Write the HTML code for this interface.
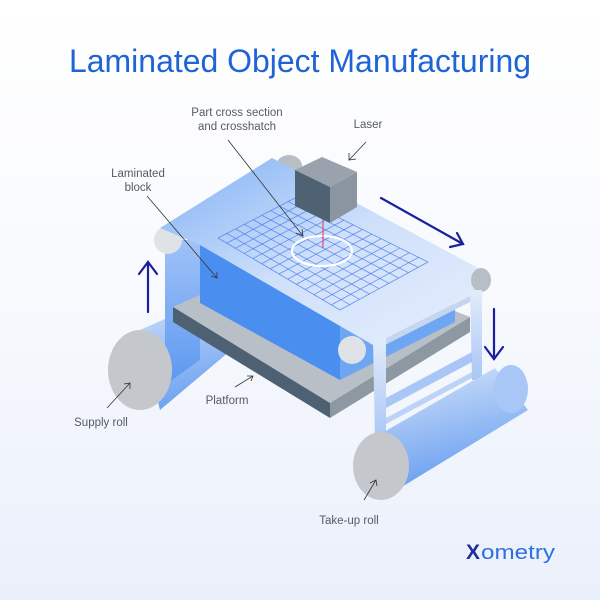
<!DOCTYPE html>
<html><head><meta charset="utf-8"><style>
html,body{margin:0;padding:0}
body{width:600px;height:600px;overflow:hidden;background:linear-gradient(#ffffff 0%,#f7f9fd 50%,#eaf0fb 100%);font-family:"Liberation Sans",sans-serif}
svg{display:block}
.lbl{font-family:"Liberation Sans",sans-serif;font-size:11.5px;fill:#555b63}
</style></head><body>
<svg width="600" height="600" viewBox="0 0 600 600" xmlns="http://www.w3.org/2000/svg">
<defs>
<linearGradient id="sheet" x1="0" y1="0" x2="1" y2="1"><stop offset="0" stop-color="#7fb0f5"/><stop offset="0.5" stop-color="#cfe0fb"/><stop offset="1" stop-color="#e6eefb"/></linearGradient>
<linearGradient id="vsheet" x1="0" y1="0" x2="0" y2="1"><stop offset="0" stop-color="#9fc2f8"/><stop offset="1" stop-color="#5d98f0"/></linearGradient>
<linearGradient id="roll" x1="0" y1="0" x2="0.3" y2="1"><stop offset="0" stop-color="#d7e5fb"/><stop offset="1" stop-color="#6aa0f0"/></linearGradient>
<linearGradient id="leg" x1="0" y1="0" x2="0" y2="1"><stop offset="0" stop-color="#e3ecfa"/><stop offset="1" stop-color="#a9c6f6"/></linearGradient>
</defs>
<text x="300" y="72" text-anchor="middle" font-family="Liberation Sans,sans-serif" font-size="32" fill="#1f63d6" textLength="462" lengthAdjust="spacingAndGlyphs">Laminated Object Manufacturing</text>

<polygon points="140,330 230,290 255,330 160,410" fill="url(#roll)"/>
<polygon points="160,240 200,240 200,360 165,385 165,250" fill="url(#vsheet)"/>
<ellipse cx="140" cy="370" rx="32" ry="40" fill="#c4c8cd"/>
<polygon points="173,307 300,250 470,317 330,403" fill="#b9bfc6"/>
<polygon points="173,307 330,403 330,418 173,322" fill="#4e6172"/>
<polygon points="330,403 470,317 470,332 330,418" fill="#8d98a3"/>
<polygon points="200,240 340,313 340,380 200,303" fill="#4a8ff0"/>
<polygon points="340,313 455,255 455,322 340,380" fill="#6fa6f3"/>
<ellipse cx="289" cy="166" rx="13" ry="11" fill="#b8bec6"/>
<ellipse cx="168" cy="240" rx="14" ry="14" fill="#dfe3e8"/>
<polygon points="160,228 272,158 482,270 482,290 373,345 200,245" fill="url(#sheet)"/>
<polygon points="373,345 482,290 482,296 385,345" fill="#c6d6ee"/>
<ellipse cx="352" cy="350" rx="14" ry="14" fill="#dfe3e8"/>
<ellipse cx="481" cy="280" rx="10" ry="12" fill="#b8bec6"/>
<polygon points="373,340 386,338 386,440 375,440" fill="url(#leg)"/>
<polygon points="470,290 482,290 482,380 472,380" fill="url(#leg)"/>
<polygon points="386,398 472,352 472,362 386,408" fill="#a9c6f6"/>
<polygon points="386,418 472,372 472,378 386,424" fill="#bcd3f7"/>
<polygon points="370,440 495,368 528,410 400,488" fill="url(#roll)"/>
<ellipse cx="511" cy="389" rx="17" ry="24" fill="#a8c6f6"/>
<ellipse cx="381" cy="466" rx="28" ry="34" fill="#c4c8cd"/>
<g id="grid" stroke="#3f78e8" stroke-opacity="0.75" stroke-width="0.8" fill="none"></g>
<ellipse cx="322" cy="251" rx="30" ry="15" fill="none" stroke="#fff" stroke-width="2.2"/>
<line x1="323" y1="218" x2="323" y2="248" stroke="#e0506a" stroke-width="1.2"/>
<polygon points="295,170 322,157 357,172 330,187" fill="#9aa3ad"/>
<polygon points="295,170 330,187 330,223 295,206" fill="#4f6273"/>
<polygon points="330,187 357,172 357,207 330,223" fill="#8a95a1"/>
<g stroke="#1b1f9e" stroke-width="2.2" fill="none" stroke-linecap="round">
<line x1="148" y1="312" x2="148" y2="262"/><polyline points="139,274 148,262 157,274"/>
<line x1="494" y1="309" x2="494" y2="359"/><polyline points="485,347 494,359 503,347"/>
<line x1="381" y1="198" x2="463" y2="244"/><polyline points="450,247 463,244 457,233"/>
</g>
<g stroke="#333" stroke-width="0.8" fill="none">
<line x1="228" y1="140" x2="303" y2="236"/><polyline points="296,233 303,236 302,229"/>
<line x1="366" y1="142" x2="349" y2="160"/><polyline points="349,153 349,160 356,159"/>
<line x1="147" y1="196" x2="217" y2="278"/><polyline points="211,276 217,278 217,272"/>
<line x1="235" y1="387" x2="253" y2="376"/><polyline points="247,376 253,376 251,381"/>
<line x1="107" y1="408" x2="130" y2="383"/><polyline points="124,384 130,383 130,389"/>
<line x1="364" y1="500" x2="376" y2="480"/><polyline points="370,483 376,480 377,486"/>
</g>
<text class="lbl" x="237" y="116" text-anchor="middle">Part cross section</text>
<text class="lbl" x="237" y="130" text-anchor="middle">and crosshatch</text>
<text class="lbl" x="368" y="128" text-anchor="middle">Laser</text>
<text class="lbl" x="138" y="177" text-anchor="middle">Laminated</text>
<text class="lbl" x="138" y="191" text-anchor="middle">block</text>
<text class="lbl" x="227" y="404" text-anchor="middle">Platform</text>
<text class="lbl" x="101" y="426" text-anchor="middle">Supply roll</text>
<text class="lbl" x="349" y="524" text-anchor="middle">Take-up roll</text>
<text x="466" y="559" font-family="Liberation Sans,sans-serif" font-size="21" font-weight="bold" fill="#1e2f9a">X</text>
<text x="481" y="559" font-family="Liberation Sans,sans-serif" font-size="20" fill="#2f6fe0" textLength="74" lengthAdjust="spacingAndGlyphs">ometry</text>
</svg>
<script>
var g=document.getElementById('grid');
var L=[218,238],T=[297,197],R=[428,262],B=[340,310];
function lerp(a,b,t){return[a[0]+(b[0]-a[0])*t,a[1]+(b[1]-a[1])*t];}
function ln(p,q){var e=document.createElementNS('http://www.w3.org/2000/svg','line');e.setAttribute('x1',p[0]);e.setAttribute('y1',p[1]);e.setAttribute('x2',q[0]);e.setAttribute('y2',q[1]);g.appendChild(e);}
var n1=14,n2=9;
for(var i=0;i<=n1;i++){var t=i/n1;ln(lerp(L,B,t),lerp(T,R,t));}
for(var j=0;j<=n2;j++){var s=j/n2;ln(lerp(L,T,s),lerp(B,R,s));}
</script>
</body></html>
